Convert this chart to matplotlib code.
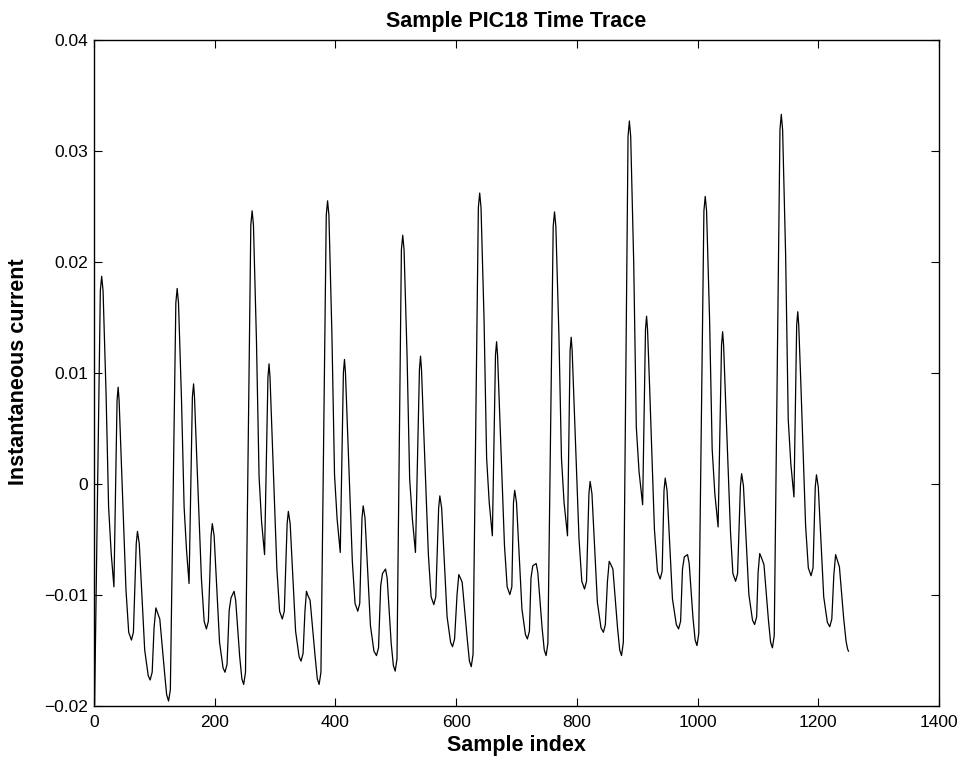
import numpy as np
import matplotlib
matplotlib.use("Agg")
import matplotlib.pyplot as plt

plt.rcParams['font.family'] = ['Liberation Sans', 'DejaVu Sans']

# Trazado (un renglon por ciclo): indice de muestra
sample_idx = [
    1, 10.5, 12.7, 15, 20, 24.2, 28.5, 33, 38.2, 40, 41.6, 45, 53, 57.5, 62, 65.3,
    70, 72, 75, 84, 89.8, 93, 96.4, 99.5, 102.5, 105, 109, 117, 120.3, 123.5, 126.5,
    135.6, 137.8, 140, 145, 149.3, 153.3, 157.5, 163, 165, 166.5, 170, 178, 182.5, 186.2, 189.5,
    194, 196, 199, 208, 213.8, 217, 220.4, 224, 227, 232, 234.7, 241.4, 245, 248, 251,
    259.8, 262, 264.2, 269.2, 273.5, 277.6, 282.6, 288.2, 290, 291.6, 295, 303, 307.5, 312, 315.3,
    320, 322, 325, 334, 339.8, 343, 346.4, 349.5, 352, 354.5, 358, 366.4, 370, 373, 376,
    384.8, 387, 389.2, 394.2, 398.5, 402.8, 408, 413.2, 415, 416.6, 420, 428, 432.5, 437, 440.3,
    444, 446, 449, 458, 463.8, 468, 471.4, 475, 478, 483, 485.7, 492.4, 496, 499, 502,
    509.3, 511.5, 513.7, 518.7, 523, 527.5, 532.6, 539.2, 541, 542.6, 546, 554, 558.5, 563, 566.3,
    571, 573, 576, 585, 590.8, 594, 597.4, 601.5, 604.4, 607, 610, 618.4, 622, 625, 628,
    636.8, 639, 641.2, 646.2, 650.5, 654.8, 660, 665.2, 667, 668.6, 672, 680, 684.5, 689, 692.3,
    695, 697, 700, 709, 714.8, 718, 721.4, 724, 727, 732.6, 735.3, 742.4, 746, 749, 752,
    760.8, 763, 765.2, 770.2, 774.5, 778.8, 784.5, 788.8, 790.6, 792.2, 795.6, 803.6, 808.2, 812.7, 816,
    820, 822, 825, 834, 840, 844, 847.2, 850.7, 853.6, 856.4, 859.7, 867.4, 871, 874, 877,
    884.8, 887, 889.2, 894.2, 898.5, 903, 909, 913.7, 915.5, 917.1, 920.5, 928.5, 933.5, 938, 941.3,
    944.4, 946.4, 949.4, 958.4, 964.8, 968.5, 971.9, 975, 978, 983.4, 986.1, 992.4, 996, 999, 1002,
    1010.5, 1012.7, 1014.9, 1019.9, 1024.2, 1028.6, 1034, 1039.7, 1041.5, 1043.1, 1046.5, 1054.5, 1058.5, 1063, 1066.3,
    1071, 1073, 1076, 1085, 1091, 1094.5, 1097.9, 1100.3, 1103, 1106, 1110, 1117.4, 1121, 1124, 1127,
    1136.5, 1138.7, 1140.9, 1145.9, 1150.2, 1154.5, 1159.7, 1164.2, 1166, 1167.6, 1171, 1179, 1183.5, 1188, 1191.3,
    1195, 1197, 1200, 1209, 1215, 1219, 1222.4, 1225.8, 1228.7, 1231.5, 1235, 1242, 1246, 1248.5, 1250,
]
# Corriente instantanea en cada muestra
current = [
    -0.0199, 0.0174, 0.0187, 0.0174, 0.0081, -0.0021, -0.0063, -0.0093, 0.0075, 0.0087, 0.0075, 0.0024, -0.0096, -0.0134, -0.0141, -0.0134,
    -0.0054, -0.0043, -0.0054, -0.0150, -0.0173, -0.0177, -0.0170, -0.0130, -0.0112, -0.0116, -0.0122, -0.0171, -0.0190, -0.0196, -0.0186,
    0.0163, 0.0176, 0.0163, 0.0075, -0.0021, -0.0060, -0.0090, 0.0078, 0.0090, 0.0078, 0.0027, -0.0086, -0.0124, -0.0131, -0.0124,
    -0.0047, -0.0036, -0.0047, -0.0143, -0.0166, -0.0170, -0.0163, -0.0114, -0.0103, -0.0097, -0.0105, -0.0156, -0.0176, -0.0181, -0.0170,
    0.0233, 0.0246, 0.0233, 0.0128, 0.0006, -0.0034, -0.0064, 0.0096, 0.0108, 0.0096, 0.0045, -0.0077, -0.0115, -0.0122, -0.0115,
    -0.0036, -0.0025, -0.0036, -0.0133, -0.0156, -0.0160, -0.0153, -0.0115, -0.0097, -0.0101, -0.0105, -0.0156, -0.0176, -0.0181, -0.0170,
    0.0242, 0.0255, 0.0242, 0.0134, 0.0008, -0.0032, -0.0062, 0.0100, 0.0112, 0.0100, 0.0049, -0.0070, -0.0108, -0.0115, -0.0108,
    -0.0031, -0.0020, -0.0031, -0.0128, -0.0151, -0.0155, -0.0148, -0.0092, -0.0081, -0.0077, -0.0085, -0.0144, -0.0164, -0.0169, -0.0158,
    0.0211, 0.0224, 0.0211, 0.0115, 0.0004, -0.0032, -0.0062, 0.0103, 0.0115, 0.0103, 0.0052, -0.0064, -0.0102, -0.0109, -0.0102,
    -0.0022, -0.0011, -0.0022, -0.0120, -0.0143, -0.0147, -0.0140, -0.0100, -0.0082, -0.0085, -0.0089, -0.0140, -0.0160, -0.0165, -0.0154,
    0.0249, 0.0262, 0.0249, 0.0149, 0.0023, -0.0017, -0.0047, 0.0116, 0.0128, 0.0116, 0.0065, -0.0055, -0.0093, -0.0100, -0.0093,
    -0.0017, -0.0006, -0.0017, -0.0113, -0.0136, -0.0140, -0.0133, -0.0085, -0.0074, -0.0072, -0.0080, -0.0130, -0.0150, -0.0155, -0.0144,
    0.0232, 0.0245, 0.0232, 0.0136, 0.0023, -0.0017, -0.0047, 0.0120, 0.0132, 0.0120, 0.0069, -0.0050, -0.0088, -0.0095, -0.0088,
    -0.0009, 0.0002, -0.0009, -0.0107, -0.0130, -0.0134, -0.0127, -0.0088, -0.0070, -0.0073, -0.0077, -0.0130, -0.0150, -0.0155, -0.0143,
    0.0313, 0.0327, 0.0313, 0.0199, 0.0051, 0.0011, -0.0019, 0.0139, 0.0151, 0.0139, 0.0088, -0.0041, -0.0079, -0.0086, -0.0079,
    -0.0006, 0.0005, -0.0006, -0.0104, -0.0127, -0.0131, -0.0124, -0.0077, -0.0066, -0.0064, -0.0072, -0.0121, -0.0141, -0.0146, -0.0135,
    0.0246, 0.0259, 0.0246, 0.0148, 0.0031, -0.0009, -0.0039, 0.0125, 0.0137, 0.0125, 0.0074, -0.0043, -0.0081, -0.0088, -0.0081,
    -0.0002, 0.0009, -0.0002, -0.0100, -0.0123, -0.0127, -0.0120, -0.0080, -0.0063, -0.0067, -0.0073, -0.0123, -0.0143, -0.0148, -0.0137,
    0.0319, 0.0333, 0.0319, 0.0206, 0.0058, 0.0018, -0.0012, 0.0143, 0.0155, 0.0143, 0.0092, -0.0038, -0.0076, -0.0083, -0.0076,
    -0.0003, 0.0008, -0.0003, -0.0102, -0.0125, -0.0129, -0.0122, -0.0082, -0.0064, -0.0069, -0.0075, -0.0121, -0.0142, -0.0149, -0.0151,
]

xticks = [0, 200, 400, 600, 800, 1000, 1200, 1400]
yticks = [-0.02, -0.01, 0, 0.01, 0.02, 0.03, 0.04]
ytick_labels = ['\u22120.02', '\u22120.01', '0', '0.01', '0.02', '0.03', '0.04']

W, H = 963, 759
fig = plt.figure(figsize=(W / 100, H / 100), dpi=100)
ax = fig.add_axes([94 / W, (H - 705.5) / H, (939 - 94) / W, (705.5 - 40) / H])

ax.plot(sample_idx, current, color='black', linewidth=0.9)

ax.set_xlim(0, 1400)
ax.set_ylim(-0.02, 0.04)
ax.set_xticks(xticks)
ax.set_yticks(yticks)
ax.set_yticklabels(ytick_labels)

for s in ax.spines.values():
    s.set_linewidth(1.0)
ax.tick_params(direction='in', length=6, width=0.8, top=True, right=True,
               labelsize=12.5)
ax.tick_params(axis='x', pad=7)
ax.tick_params(axis='y', pad=4)

fig.text(516.5 / W, 1 - 21 / H, 'Sample PIC18 Time Trace', ha='center', va='center',
         fontsize=15.5, fontweight='bold')
fig.text(516.5 / W, 1 - 746 / H, 'Sample index', ha='center', va='center',
         fontsize=15.5, fontweight='bold')
fig.text(19 / W, 1 - 372 / H, 'Instantaneous current', ha='center', va='center',
         rotation=90, fontsize=15.5, fontweight='bold')

fig.savefig('out.png', dpi=100)
